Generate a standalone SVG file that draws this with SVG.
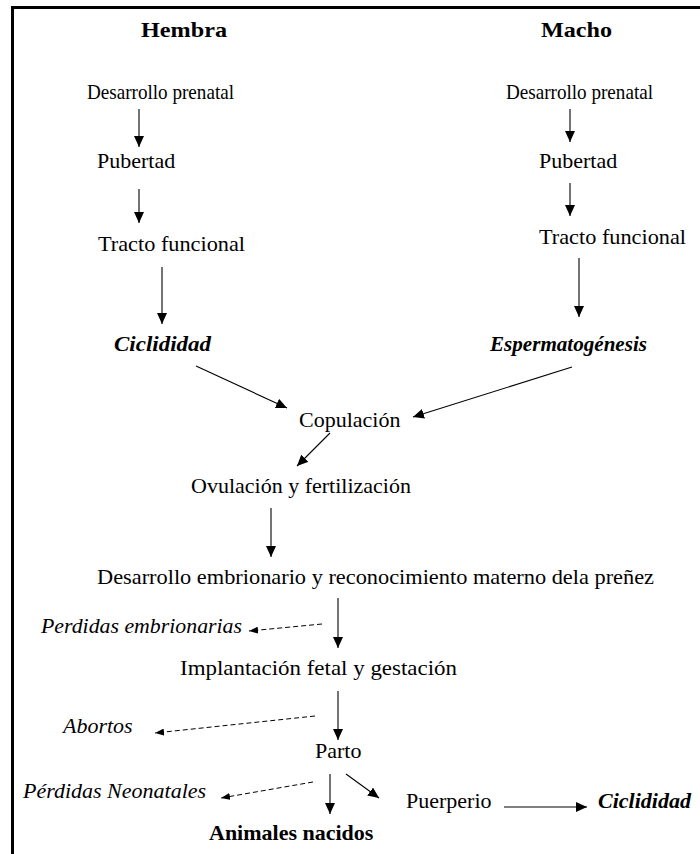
<svg xmlns="http://www.w3.org/2000/svg" width="700" height="854" viewBox="0 0 700 854">
<defs>
<style>
text{font-family:"Liberation Serif","Times New Roman",serif;font-size:22px;fill:#000}
.b{font-weight:bold}
.i{font-style:italic}
.bi{font-weight:bold;font-style:italic}
.c{stroke:#000;stroke-width:1.1;fill:none}
.d{stroke:#000;stroke-width:1;fill:none;stroke-dasharray:5 3}
</style>
<marker id="ah" markerUnits="userSpaceOnUse" markerWidth="11" markerHeight="10" refX="11" refY="5" orient="auto">
<path d="M0,0 L11,5 L0,10 z" fill="#000"/>
</marker>
<marker id="ahs" markerUnits="userSpaceOnUse" markerWidth="9" markerHeight="7" refX="9" refY="3.5" orient="auto">
<path d="M0,0 L9,3.5 L0,7 z" fill="#000"/>
</marker>
</defs>
<rect width="700" height="854" fill="#fff"/>
<path d="M12.5,854 V7.5 H700" stroke="#000" stroke-width="3" fill="none"/>

<g id="hembra"><text class="b" x="141" y="37" textLength="86" lengthAdjust="spacingAndGlyphs">Hembra</text></g>
<g id="macho"><text class="b" x="541" y="37" textLength="71" lengthAdjust="spacingAndGlyphs">Macho</text></g>

<g id="h-prenatal"><text x="87" y="99" textLength="147" lengthAdjust="spacingAndGlyphs">Desarrollo prenatal</text></g>
<g id="h-pubertad"><text x="97" y="168">Pubertad</text></g>
<g id="h-tracto"><text x="98" y="251" textLength="147" lengthAdjust="spacingAndGlyphs">Tracto funcional</text></g>
<g id="h-ciclididad"><text class="bi" x="114" y="351" textLength="97" lengthAdjust="spacingAndGlyphs">Ciclididad</text></g>

<g id="m-prenatal"><text x="506" y="99" textLength="147" lengthAdjust="spacingAndGlyphs">Desarrollo prenatal</text></g>
<g id="m-pubertad"><text x="539" y="168">Pubertad</text></g>
<g id="m-tracto"><text x="539" y="244" textLength="147" lengthAdjust="spacingAndGlyphs">Tracto funcional</text></g>
<g id="m-esperma"><text class="bi" x="490" y="351" textLength="157" lengthAdjust="spacingAndGlyphs">Espermatogénesis</text></g>

<g id="copulacion"><text x="299" y="427">Copulación</text></g>
<g id="ovulacion"><text x="191" y="493">Ovulación y fertilización</text></g>
<g id="desarrollo-emb"><text x="97" y="584" textLength="557" lengthAdjust="spacingAndGlyphs">Desarrollo embrionario y reconocimiento materno dela preñez</text></g>
<g id="perdidas-emb"><text class="i" x="41" y="633" textLength="201" lengthAdjust="spacingAndGlyphs">Perdidas embrionarias</text></g>
<g id="implantacion"><text x="180" y="675" textLength="277" lengthAdjust="spacingAndGlyphs">Implantación fetal y gestación</text></g>
<g id="abortos"><text class="i" x="63" y="733">Abortos</text></g>
<g id="parto"><text x="315" y="758">Parto</text></g>
<g id="perdidas-neo"><text class="i" x="23" y="798">Pérdidas Neonatales</text></g>
<g id="puerperio"><text x="406" y="808">Puerperio</text></g>
<g id="ciclididad2"><text class="bi" x="598" y="808">Ciclididad</text></g>
<g id="animales"><text class="b" x="209" y="840">Animales nacidos</text></g>

<g id="connectors">
<line class="c" x1="139" y1="109" x2="139" y2="147" marker-end="url(#ah)"/>
<line class="c" x1="139" y1="189" x2="139" y2="223" marker-end="url(#ah)"/>
<line class="c" x1="162" y1="267" x2="162" y2="324" marker-end="url(#ah)"/>
<line class="c" x1="570" y1="109" x2="570" y2="142" marker-end="url(#ah)"/>
<line class="c" x1="570" y1="183" x2="570" y2="216" marker-end="url(#ah)"/>
<line class="c" x1="579" y1="258" x2="579" y2="317" marker-end="url(#ah)"/>
<line class="c" x1="196" y1="366" x2="287" y2="408" marker-end="url(#ah)"/>
<line class="c" x1="572" y1="367" x2="413" y2="417" marker-end="url(#ah)"/>
<line class="c" x1="330" y1="433" x2="297" y2="466" marker-end="url(#ah)"/>
<line class="c" x1="271" y1="508" x2="271" y2="557" marker-end="url(#ah)"/>
<line class="c" x1="338" y1="598" x2="338" y2="648" marker-end="url(#ah)"/>
<line class="c" x1="338" y1="691" x2="338" y2="740" marker-end="url(#ah)"/>
<line class="c" x1="330" y1="774" x2="330" y2="814" marker-end="url(#ah)"/>
<line class="c" x1="346" y1="774" x2="379" y2="798" marker-end="url(#ah)"/>
<line class="c" x1="504" y1="807" x2="587" y2="807" marker-end="url(#ah)"/>
<line class="d" x1="322" y1="624" x2="249" y2="631" marker-end="url(#ahs)"/>
<line class="d" x1="315" y1="716" x2="155" y2="733" marker-end="url(#ahs)"/>
<line class="d" x1="313" y1="782" x2="221" y2="798" marker-end="url(#ahs)"/>
</g>
</svg>
